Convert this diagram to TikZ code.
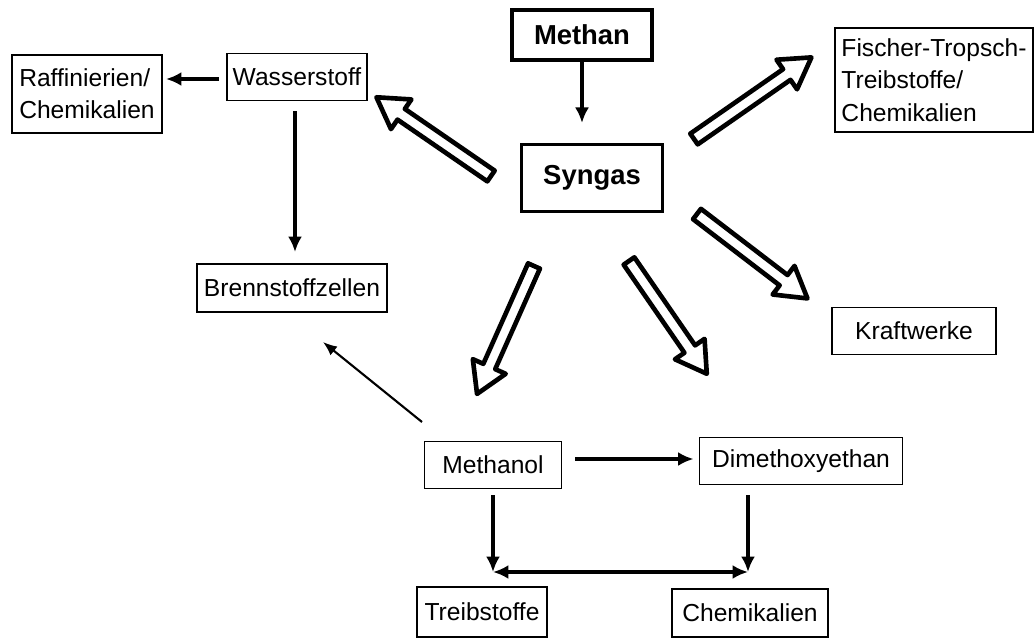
\documentclass[tikz,border=0pt]{standalone}
\usepackage{fontspec}
\setmainfont{Liberation Sans}
\usetikzlibrary{arrows.meta}
\newcommand\hollowarrow[3]{%
  \begin{scope}[shift={(#1)}, rotate=#2]
    \draw[blockarrow] (0,-6.5) -- (#3-30,-6.5) -- (#3-30,-18) -- (#3,0)
      -- (#3-30,18) -- (#3-30,6.5) -- (0,6.5) -- cycle;
  \end{scope}}
\begin{document}
\begin{tikzpicture}[x=0.025cm, y=-0.025cm,
  box/.style={draw, line width=1.4pt, inner sep=0pt, align=left,
    font=\fontsize{17.5}{23}\selectfont},
  boldbox/.style={draw, line width=2.2pt, inner sep=0pt,
    font=\fontsize{19.5}{23}\selectfont\bfseries},
  arr/.style={line width=2.3pt, -{Latex[length=11pt,width=10pt]}},
  dblarr/.style={line width=2.3pt, {Latex[length=11pt,width=10pt]}-{Latex[length=11pt,width=10pt]}},
  thinarr/.style={line width=1.5pt, -{Latex[length=10pt,width=8pt]}},
  blockarrow/.style={draw=black, fill=white, line width=3.3pt, line join=round}]
\useasboundingbox (0,0) rectangle (1035,639);

% nodes
\node[box, minimum width=150*0.025cm, minimum height=78*0.025cm] (raff) at (87,94) {Raffinierien/\\Chemikalien};
\node[box, minimum width=140*0.025cm, minimum height=47*0.025cm] (wass) at (297,77) {Wasserstoff};
\node[boldbox, minimum width=140*0.025cm, minimum height=50*0.025cm] (methan) at (582,35) {Methan};
\node[boldbox, minimum width=141*0.025cm, minimum height=67*0.025cm] (syngas) at (592,178) {Syngas};
\node[box, minimum width=198*0.025cm, minimum height=104*0.025cm] (fischer) at (934,80) {Fischer-Tropsch-\\Treibstoffe/\\Chemikalien};
\node[box, minimum width=164*0.025cm, minimum height=47*0.025cm] (kraft) at (914,331) {Kraftwerke};
\node[box, minimum width=190*0.025cm, minimum height=48*0.025cm] (brenn) at (292,288) {Brennstoffzellen};
\node[box, minimum width=137*0.025cm, minimum height=47*0.025cm] (methanol) at (493,465) {Methanol};
\node[box, minimum width=203*0.025cm, minimum height=47*0.025cm] (dimeth) at (801,461) {Dimethoxyethan};
\node[box, minimum width=130*0.025cm, minimum height=50*0.025cm] (treib) at (482,612) {Treibstoffe};
\node[box, minimum width=156*0.025cm, minimum height=48*0.025cm] (chem) at (750,613) {Chemikalien};

% thin connectors
\draw[arr, shorten <=7*0.025cm, shorten >=3*0.025cm] (wass.west |- 0,79) -- (raff.east |- 0,79);
\draw[arr, shorten <=10*0.025cm, shorten >=11*0.025cm] (295,0 |- wass.south) -- (295,0 |- brenn.north);
\draw[arr, shorten >=20*0.025cm] (methan.south) -- (methan.south |- syngas.north);

\coordinate (mA) at (422,422);
\coordinate (mB) at (323,342);
\draw[thinarr] (mA) -- (mB);

\draw[arr, shorten <=13*0.025cm, shorten >=5*0.025cm] (methanol.east |- 0,459) -- (dimeth.west |- 0,459);

\coordinate (jL) at (493,572);
\coordinate (jR) at (748,572);
\draw[arr, shorten <=6*0.025cm] (methanol.south -| jL) -- (jL);
\draw[arr, shorten <=10*0.025cm] (dimeth.south -| jR) -- (jR);
\draw[dblarr] (jL) -- (jR);

% hollow block arrows from Syngas
\coordinate (t1) at (491,176);
\coordinate (t2) at (694,139);
\coordinate (t3) at (697,214);
\coordinate (t4) at (534,266);
\coordinate (t5) at (629,261);
\hollowarrow{t1}{145.5}{139}
\hollowarrow{t2}{34.8}{143}
\hollowarrow{t3}{-37.4}{139}
\hollowarrow{t4}{-114}{140}
\hollowarrow{t5}{-55.4}{137}
\end{tikzpicture}
\end{document}
